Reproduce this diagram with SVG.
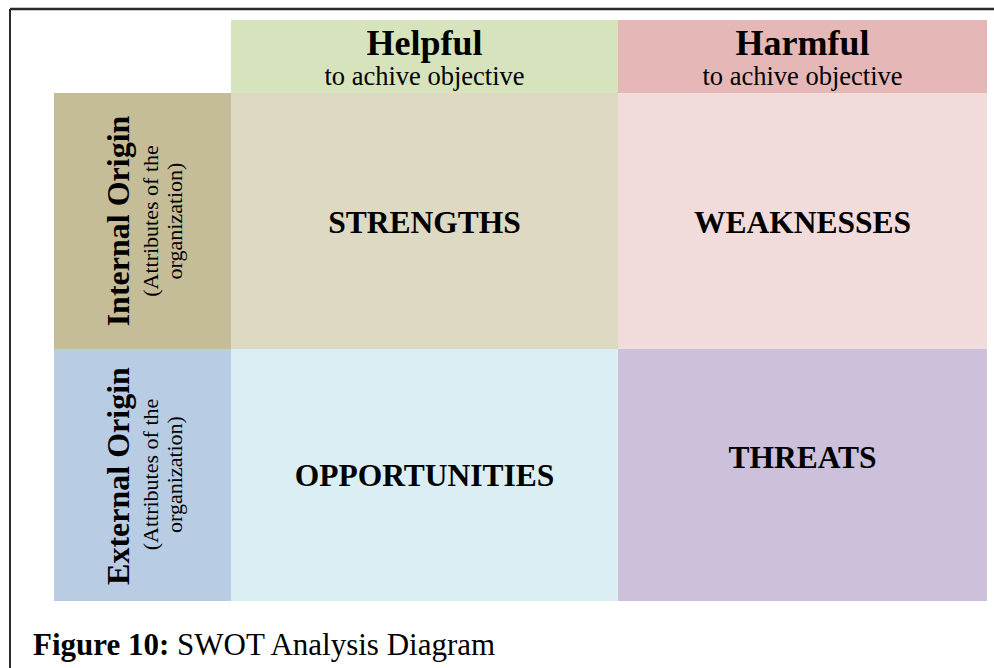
<svg xmlns="http://www.w3.org/2000/svg" width="994" height="668" viewBox="0 0 994 668">
<style>
text{font-family:"Liberation Serif","Times New Roman",serif;fill:#000}
.b{font-weight:bold}
.hd{font-size:36px;font-weight:bold;text-anchor:middle}
.sub{font-size:26.5px;text-anchor:middle}
.q{font-size:31.5px;font-weight:bold;text-anchor:middle}
.side{font-size:32px;font-weight:bold;text-anchor:middle}
.sm{font-size:22px;text-anchor:middle}
</style>
<rect x="0" y="0" width="994" height="668" fill="#ffffff"/>
<g id="frame">
<line x1="10" y1="9" x2="994" y2="9" stroke="#2a2a2a" stroke-width="2.5"/>
<line x1="10" y1="9" x2="10" y2="668" stroke="#2a2a2a" stroke-width="2"/>
</g>
<g id="helpful">
<rect x="231" y="20" width="387" height="73" fill="#D6E3BC"/>
<text class="hd" x="424.5" y="55">Helpful</text>
<text class="sub" x="424.5" y="85">to achive objective</text>
</g>
<g id="harmful">
<rect x="618" y="20" width="369" height="73" fill="#E5B8B7"/>
<text class="hd" x="802.5" y="55">Harmful</text>
<text class="sub" x="802.5" y="85">to achive objective</text>
</g>
<g id="internal">
<rect x="54" y="93" width="177" height="256" fill="#C4BD97"/>
<text class="side" transform="translate(129,221) rotate(-90)">Internal Origin</text>
<text class="sm" transform="translate(158,221) rotate(-90)">(Attributes of the</text>
<text class="sm" transform="translate(182,221) rotate(-90)">organization)</text>
</g>
<g id="external">
<rect x="54" y="349" width="177" height="252" fill="#B8CCE4"/>
<text class="side" transform="translate(129,476) rotate(-90)">External Origin</text>
<text class="sm" transform="translate(158,474.5) rotate(-90)">(Attributes of the</text>
<text class="sm" transform="translate(182,474.5) rotate(-90)">organization)</text>
</g>
<g id="strengths">
<rect x="231" y="93" width="387" height="256" fill="#DDD9C3"/>
<text class="q" x="424.5" y="233">STRENGTHS</text>
</g>
<g id="weaknesses">
<rect x="618" y="93" width="369" height="256" fill="#F2DBDB"/>
<text class="q" x="802.5" y="233">WEAKNESSES</text>
</g>
<g id="opportunities">
<rect x="231" y="349" width="387" height="252" fill="#DAEEF3"/>
<text class="q" x="424.5" y="486">OPPORTUNITIES</text>
</g>
<g id="threats">
<rect x="618" y="349" width="369" height="252" fill="#CCC0DA"/>
<text class="q" x="802.5" y="468">THREATS</text>
</g>
<g id="connectors"></g>
<g id="caption">
<text x="33" y="655" style="font-size:31px"><tspan class="b">Figure 10:</tspan> SWOT Analysis Diagram</text>
</g>
</svg>
